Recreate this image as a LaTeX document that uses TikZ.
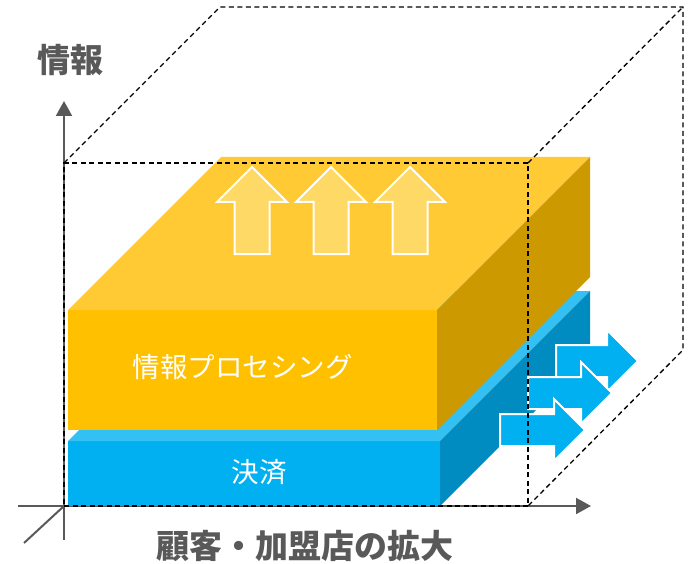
\documentclass[tikz,border=0pt]{standalone}
\usepackage{fontspec}
\setmainfont{Noto Sans CJK JP}
\usetikzlibrary{arrows.meta}
\definecolor{axisgray}{HTML}{595959}
\definecolor{yfront}{HTML}{FFC000}
\definecolor{ytop}{HTML}{FFCA33}
\definecolor{yside}{HTML}{CC9A00}
\definecolor{yarrow}{HTML}{FFD966}
\definecolor{bfront}{HTML}{00B0F0}
\definecolor{btop}{HTML}{33C0F3}
\definecolor{bside}{HTML}{008CC0}
\tikzset{
  axisline/.style={draw=axisgray, line width=2pt},
  axisarrow/.style={axisline, -{Triangle[length=15pt,width=16pt]}},
  cubeline/.style={draw=black, line width=1.3pt, dash pattern=on 5pt off 3.5pt},
  uparrow/.style={fill=yarrow, draw=white, line width=2pt},
  rarrow/.style={fill=bfront, draw=white, line width=2pt},
  axislabel/.style={font=\fontsize{33}{36}\selectfont\bfseries, text=axisgray, inner sep=0pt},
  boxlabel/.style={font=\fontsize{27.5}{30}\selectfont, text=white, inner sep=0pt},
}
\begin{document}
\begin{tikzpicture}[x=1pt,y=-1pt]
\useasboundingbox (0,0) rectangle (693,564);
% axes
\coordinate (O) at (64,506);
\coordinate (ytip) at (64,101);
\coordinate (ybot) at (64,540);
\coordinate (xtip) at (591,506);
\coordinate (xleft) at (18,506);
\coordinate (zend) at (24,543);
\draw[axisarrow] (ybot) -- (ytip);
\draw[axisarrow] (xleft) -- (xtip);
\draw[axisline] (O) -- (zend);
% blue box
\fill[bfront] (68,441) rectangle (440,506);
\fill[btop] (68,441) -- (440,441) -- (590,291) -- (218,291) -- cycle;
\fill[bside] (440,441) -- (590,291) -- (590,356) -- (440,506) -- cycle;
% yellow box
\fill[yfront] (68,310) rectangle (437,430);
\fill[ytop] (68,310) -- (437,310) -- (590,157) -- (221,157) -- cycle;
\fill[yside] (437,310) -- (590,157) -- (590,277) -- (437,430) -- cycle;
% up arrows
\foreach \cx in {252,331,410}{
  \draw[uparrow] (\cx,167) -- (\cx+35,202) -- (\cx+17.5,202) -- (\cx+17.5,254)
     -- (\cx-17.5,254) -- (\cx-17.5,202) -- (\cx-35,202) -- cycle;
}
% right arrows
\foreach \tx/\tip/\cy in {556/638/361, 528/612/393, 500/585/430}{
  \draw[rarrow] (\tx,\cy-16) -- (\tip-31,\cy-16) -- (\tip-31,\cy-31) -- (\tip,\cy)
     -- (\tip-31,\cy+31) -- (\tip-31,\cy+16) -- (\tx,\cy+16) -- cycle;
}
% dashed cube
\coordinate (f1) at (64,506);
\coordinate (f2) at (528,506);
\coordinate (f3) at (528,163);
\coordinate (f4) at (64,163);
\coordinate (b2) at (683,350);
\coordinate (b3) at (683,7);
\coordinate (b4) at (220,7);
\draw[cubeline] (f1) -- (f2) -- (f3) -- (f4) -- cycle;
\draw[cubeline] (f4) -- (b4) -- (b3) -- (b2) -- (f2);
\draw[cubeline] (f3) -- (b3);
% labels
\node[boxlabel] (ylabel) at (242.5,367) {情報プロセシング};
\node[boxlabel] (blabel) at (259,472) {決済};
\node[axislabel] (yax) at (70,60) {情報};
\node[axislabel] (xax) at (305,546) {顧客・加盟店の拡大};
\end{tikzpicture}
\end{document}
